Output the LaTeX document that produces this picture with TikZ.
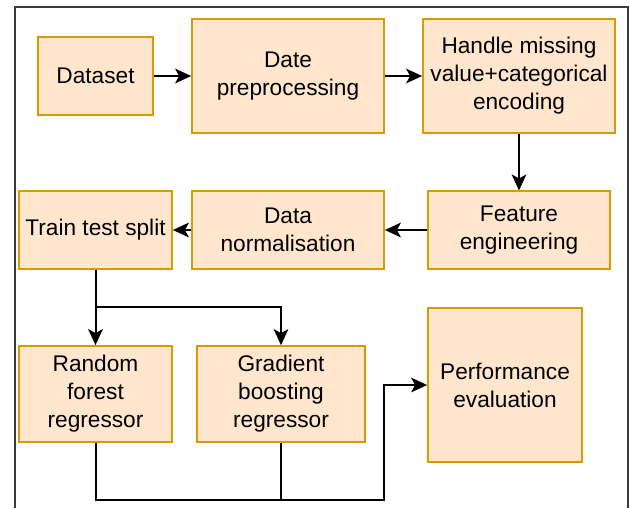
\documentclass[tikz,border=0pt]{standalone}
\usepackage{fontspec}
\setmainfont{Liberation Sans}
\usetikzlibrary{arrows.meta,positioning}
\definecolor{stagefill}{RGB}{255,230,204}
\definecolor{stageline}{RGB}{215,155,0}
\definecolor{framegray}{RGB}{60,60,60}

\tikzset{
  stage/.style={draw=stageline, fill=stagefill, line width=1.3pt, align=center,
    inner sep=0pt, font=\fontsize{17}{21}\selectfont},
  flow/.style={line width=1.5pt, -{Stealth[length=12pt,width=11pt,inset=3pt]}},
  wire/.style={line width=1.5pt}
}

\begin{document}
\begin{tikzpicture}[x=0.75pt, y=-0.75pt]
    \useasboundingbox (0,0) rectangle (630,508);
    % outer frame, open at the bottom
    \draw[framegray, line width=1pt] (15,508) -- (15,7) -- (628,7) -- (628,508);

    % first row
    \node[stage, minimum width=86pt, minimum height=58pt] (data) at (95.5,76) {Dataset};
    \node[stage, minimum width=144pt, minimum height=85.5pt] (prep) at (288,76) {Date\\preprocessing};
    \node[stage, minimum width=144pt, minimum height=85.5pt] (miss) at (519,76) {Handle missing\\value+categorical\\encoding};

    % second row
    \node[stage, minimum width=136.5pt, minimum height=58pt] (feat) at (519,230) {Feature\\engineering};
    \node[stage, minimum width=144pt, minimum height=58pt] (norm) at (288,230) {Data\\normalisation};
    \node[stage, minimum width=114.75pt, minimum height=58pt] (split) at (95.5,230) {Train test split};

    % models and evaluation
    \node[stage, minimum width=114.75pt, minimum height=72pt] (rf) at (95.5,394) {Random\\forest\\regressor};
    \node[stage, minimum width=126pt, minimum height=72pt] (gb) at (281,394) {Gradient\\boosting\\regressor};
    \node[stage, minimum width=115.5pt, minimum height=115.5pt] (perf) at (505,385) {Performance\\evaluation};

    \coordinate (fork) at (95.5,307);
    \coordinate (join) at (281,500);
    \coordinate (bend) at (384,500);

    \draw[flow] (data) -- (prep);
    \draw[flow] (prep) -- (miss);
    \draw[flow] (miss) -- (feat);
    \draw[flow] (feat) -- (norm);
    \draw[flow] (norm) -- (split);
    \draw[wire] (split) -- (fork);
    \draw[flow] (fork) -- (rf);
    \draw[flow] (fork) -| (gb);
    \draw[wire] (rf) |- (join);
    \draw[wire] (gb) -- (join);
    \draw[flow] (join) -- (bend) |- (perf);
\end{tikzpicture}
\end{document}
